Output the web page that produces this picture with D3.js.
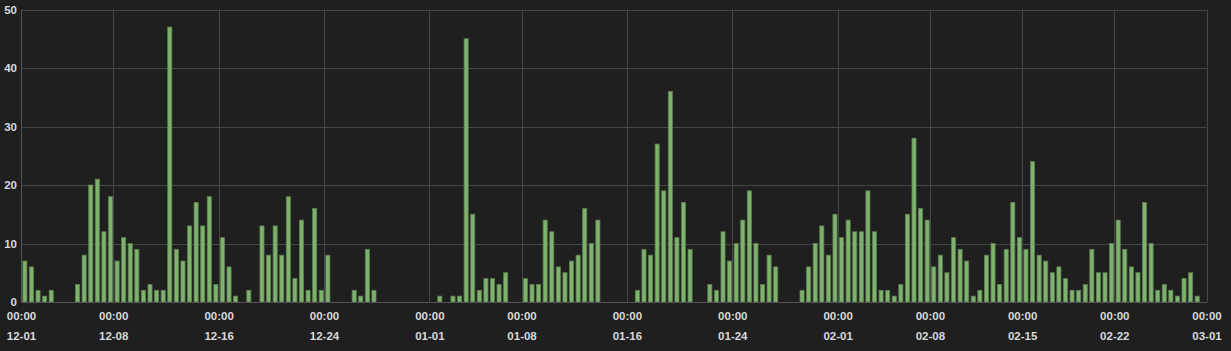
<!DOCTYPE html>
<html lang="en">
<head>
    <meta charset="UTF-8">
    <title></title>
    <style type="text/css">
        html, body { padding:0; margin:0; background:#1f1f20; }
        svg text { font-family: "Liberation Sans", Arial, sans-serif; }
    </style>
</head>
<body>
<script src="https://d3js.org/d3.v7.min.js"></script>
<script>
    // 12-hour buckets from 2022-12-01 to 2023-03-01
    var startDate = '2022-12-01';
    var endDate = '2023-03-01';
    var bucketHours = 12;

    var counts = [
        7, 6, 2, 1, 2, 0, 0, 0, 3, 8,
        20, 21, 12, 18, 7, 11, 10, 9, 2, 3,
        2, 2, 47, 9, 7, 13, 17, 13, 18, 3,
        11, 6, 1, 0, 2, 0, 13, 8, 13, 8,
        18, 4, 14, 2, 16, 2, 8, 0, 0, 0,
        2, 1, 9, 2, 0, 0, 0, 0, 0, 0,
        0, 0, 0, 1, 0, 1, 1, 45, 15, 2,
        4, 4, 3, 5, 0, 0, 4, 3, 3, 14,
        12, 6, 5, 7, 8, 16, 10, 14, 0, 0,
        0, 0, 0, 2, 9, 8, 27, 19, 36, 11,
        17, 9, 0, 0, 3, 2, 12, 7, 10, 14,
        19, 10, 3, 8, 6, 0, 0, 0, 2, 6,
        10, 13, 8, 15, 11, 14, 12, 12, 19, 12,
        2, 2, 1, 3, 15, 28, 16, 14, 6, 8,
        5, 11, 9, 7, 1, 2, 8, 10, 3, 9,
        17, 11, 9, 24, 8, 7, 5, 6, 4, 2,
        2, 3, 9, 5, 5, 10, 14, 9, 6, 5,
        17, 10, 2, 3, 2, 1, 4, 5, 1, 0
    ];

    var xTicks = ['2022-12-01', '2022-12-08', '2022-12-16', '2022-12-24', '2023-01-01',
                  '2023-01-08', '2023-01-16', '2023-01-24', '2023-02-01', '2023-02-08',
                  '2023-02-15', '2023-02-22', '2023-03-01'];
    var yTicks = [0, 10, 20, 30, 40, 50];

    var chart = {};

    chart.options = {
        width: 1231,
        height: 351,
        margin: { top: 9.5, right: 24.5, bottom: 49, left: 21 },
        barColor: '#7eb26d',
        gridColor: '#464646',
        textColor: '#d8d9da'
    };

    chart.init = function() {
        var o = this.options,
            parse = d3.utcParse('%Y-%m-%d');

        this.svg = d3.select('body').append('svg')
            .attr('width', o.width)
            .attr('height', o.height);

        this.data = counts.map(function(v, i) {
            return { t: d3.utcHour.offset(parse(startDate), i * bucketHours), v: v };
        });
        this.tickDates = xTicks.map(parse);

        this.x = d3.scaleUtc()
            .domain([parse(startDate), parse(endDate)])
            .range([o.margin.left, o.width - o.margin.right]);
        this.y = d3.scaleLinear()
            .domain([0, 50])
            .range([o.height - o.margin.bottom, o.margin.top]);

        this.renderGrid();
        this.renderBars();
        this.renderAxes();
    };

    chart.renderGrid = function() {
        var o = this.options, x = this.x, y = this.y, g = this.svg.append('g');

        g.selectAll('.hgrid').data(yTicks).enter().append('line')
            .attr('x1', x.range()[0]).attr('x2', x.range()[1])
            .attr('y1', function(d) { return Math.round(y(d)) + 0.5; })
            .attr('y2', function(d) { return Math.round(y(d)) + 0.5; })
            .attr('stroke', o.gridColor);

        g.selectAll('.vgrid').data(this.tickDates).enter().append('line')
            .attr('x1', function(d) { return Math.round(x(d)) + 0.5; })
            .attr('x2', function(d) { return Math.round(x(d)) + 0.5; })
            .attr('y1', y.range()[1]).attr('y2', y.range()[0])
            .attr('stroke', o.gridColor);
    };

    chart.renderBars = function() {
        var o = this.options, x = this.x, y = this.y;
        var step = x(d3.utcHour.offset(x.domain()[0], bucketHours)) - x.range()[0];

        this.svg.append('g').selectAll('rect')
            .data(this.data.filter(function(d) { return d.v > 0; }))
            .enter().append('rect')
            .attr('x', function(d) { return x(d.t) + step * 0.28; })
            .attr('width', step * 0.62)
            .attr('y', function(d) { return y(d.v); })
            .attr('height', function(d) { return y(0) - y(d.v); })
            .attr('fill', o.barColor)
            .attr('stroke', '#5f8052')
            .attr('stroke-width', 0.8);
    };

    chart.renderAxes = function() {
        var o = this.options, x = this.x, y = this.y;

        var yAxis = d3.axisLeft(y).tickValues(yTicks).tickSize(0).tickPadding(4);
        var gy = this.svg.append('g')
            .attr('transform', 'translate(' + o.margin.left + ',0)')
            .call(yAxis);
        gy.select('.domain').attr('stroke', '#555');
        gy.selectAll('text')
            .attr('fill', o.textColor)
            .style('font-size', '11.5px')
            .style('font-weight', 'bold');

        var gx = this.svg.append('g')
            .attr('transform', 'translate(0,' + y(0) + ')')
            .call(d3.axisBottom(x).tickValues(this.tickDates).tickSize(0).tickFormat(''));
        gx.select('.domain').attr('stroke', '#555');

        var fmtTime = d3.utcFormat('%H:%M'), fmtDay = d3.utcFormat('%m-%d');
        var labels = gx.selectAll('.tick').append('text')
            .attr('fill', o.textColor)
            .attr('text-anchor', 'middle')
            .style('font-size', '11.5px')
            .style('font-weight', 'bold');
        labels.append('tspan').attr('x', 0).attr('y', 18).text(fmtTime);
        labels.append('tspan').attr('x', 0).attr('y', 38).text(fmtDay);
    };

    chart.init();
</script>
</body>
</html>
